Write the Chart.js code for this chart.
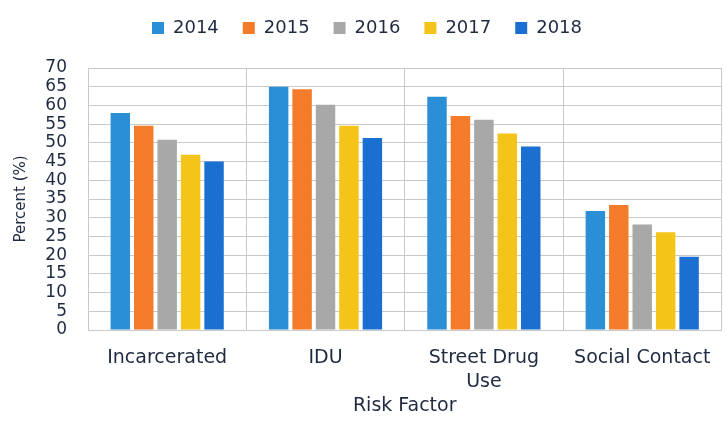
<!DOCTYPE html>
<html>
<head>
<meta charset="utf-8">
<script src="https://cdn.jsdelivr.net/npm/chart.js@4"></script>
<style>
  html, body { margin: 0; padding: 0; background: #fff; }
  #wrap { width: 727px; height: 423px; }
</style>
</head>
<body>
<div id="wrap"><canvas id="grafico" width="727" height="423"></canvas></div>
<script>
const categorias = ['Incarcerated', 'IDU', ['Street Drug', 'Use'], 'Social Contact'];
const anios = ['2014', '2015', '2016', '2017', '2018'];
const colores = ['#2b8fd6', '#f47b2a', '#a8a8a8', '#f5c419', '#1a6fd0'];

// one array per year, in category order
const v2014 = [58, 65, 62.3, 31.8];
const v2015 = [54.6, 64.3, 57.2, 33.4];
const v2016 = [50.8, 60.2, 56.2, 28.2];
const v2017 = [46.8, 54.6, 52.5, 26.1];
const v2018 = [45, 51.3, 49, 19.6];
const series = [v2014, v2015, v2016, v2017, v2018];

const yTicks = [0, 5, 10, 15, 20, 25, 30, 35, 40, 45, 50, 55, 60, 65, 70];

// push the plot down below the legend
const legendMargin = {
  id: 'legendMargin',
  beforeInit(chart) {
    const fit = chart.legend.fit;
    chart.legend.fit = function () {
      fit.bind(chart.legend)();
      this.height += 21;
    };
  }
};

const ctx = document.getElementById('grafico').getContext('2d');
const chart = new Chart(ctx, {
  type: 'bar',
  data: {
    labels: categorias,
    datasets: series.map((d, i) => ({
      label: anios[i],
      data: d,
      backgroundColor: colores[i],
      borderWidth: 0,
      categoryPercentage: 0.74,
      barPercentage: 0.83
    }))
  },
  options: {
    responsive: false,
    animation: false,
    devicePixelRatio: 1,
    layout: { padding: { top: -5, left: 12, right: 5, bottom: 0 } },
    plugins: {
      tooltip: { enabled: false },
      legend: {
        position: 'top',
        labels: {
          boxWidth: 12,
          boxHeight: 12,
          padding: 24,
          color: '#1e2a40',
          font: { family: 'DejaVu Sans', size: 18 }
        }
      }
    },
    scales: {
      x: {
        afterFit: (s) => { s.height = 93; },
        grid: { offset: true, color: '#c9c9c9', drawTicks: false },
        border: { color: '#c9c9c9' },
        ticks: {
          color: '#1e2a40',
          padding: 16,
          maxRotation: 0,
          font: { family: 'DejaVu Sans', size: 19, lineHeight: 1.25 }
        },
        title: {
          display: true,
          text: 'Risk Factor',
          color: '#1e2a40',
          padding: { top: 0, bottom: 6 },
          font: { family: 'DejaVu Sans', size: 19 }
        }
      },
      y: {
        min: 0,
        max: 70,
        afterFit: (s) => { s.width = 76; },
        afterBuildTicks: (s) => { s.ticks = yTicks.map(v => ({ value: v })); },
        grid: { color: '#c9c9c9', drawTicks: false },
        border: { color: '#c9c9c9' },
        ticks: {
          color: '#1e2a40',
          padding: 21,
          autoSkip: false,
          font: { family: 'DejaVu Sans', size: 17 }
        },
        title: {
          display: true,
          text: 'Percent (%)',
          color: '#1e2a40',
          padding: { top: 0, bottom: 0 },
          font: { family: 'DejaVu Sans', size: 15 }
        }
      }
    }
  },
  plugins: [legendMargin]
});
</script>
</body>
</html>
